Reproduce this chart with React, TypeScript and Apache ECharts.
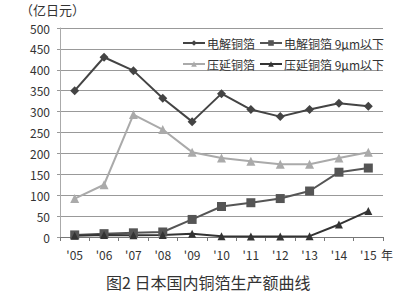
import React, { useEffect, useRef } from "react";
import * as echarts from "echarts";

const categories = ["'05", "'06", "'07", "'08", "'09", "'10", "'11", "'12", "'13", "'14", "'15"];
const seriesNames = ["电解铜箔", "电解铜箔 9μm以下", "压延铜箔", "压延铜箔 9μm以下"];
const electrolytic = [350, 430, 398, 332, 276, 343, 305, 288, 305, 320, 313];
const electrolyticThin = [5, 8, 10, 12, 42, 73, 82, 92, 110, 155, 165];
const rolled = [92, 125, 293, 257, 203, 189, 181, 174, 174, 189, 203];
const rolledThin = [3, 5, 4, 5, 8, 2, 1, 1, 2, 30, 62];
const yTicks = { min: 0, max: 500, interval: 50 };
const unitLabel = "（亿日元）";
const yearUnit = "年";
const caption = "图2 日本国内铜箔生产额曲线";

const FONT = "'Noto Sans CJK JP', 'Noto Sans CJK SC', sans-serif";

export default function App() {
  const ref = useRef<HTMLDivElement>(null);
  useEffect(() => {
    if (!ref.current) return;
    const chart = echarts.init(ref.current, undefined, { renderer: "svg" });
    const mk = (name: string, data: number[], color: string, symbol: string, size: number) => ({
      name,
      type: "line",
      data,
      symbol,
      symbolSize: size,
      lineStyle: { color, width: 2 },
      itemStyle: { color },
      z: 3,
    });
    const legendBase = {
      left: 177,
      itemWidth: 22,
      itemHeight: 7,
      itemGap: 4,
      textStyle: { fontSize: 12, color: "#333", fontFamily: FONT, padding: [0, 0, 0, -3] },
    };
    chart.setOption({
      animation: false,
      backgroundColor: "#fff",
      textStyle: { fontFamily: FONT },
      grid: { left: 60, right: 17, top: 28, bottom: 62 },
      legend: [
        { ...legendBase, data: [seriesNames[0], seriesNames[1]], top: 32 },
        { ...legendBase, data: [seriesNames[2], seriesNames[3]], top: 53 },
      ],
      xAxis: {
        type: "category",
        data: categories,
        boundaryGap: true,
        axisLine: { lineStyle: { color: "#777", width: 1 } },
        axisTick: { show: true, length: 4, lineStyle: { color: "#777" } },
        axisLabel: { color: "#333", fontSize: 12, margin: 11, fontFamily: FONT },
      },
      yAxis: {
        type: "value",
        min: yTicks.min,
        max: yTicks.max,
        interval: yTicks.interval,
        axisLine: { show: true, lineStyle: { color: "#aaa" } },
        axisTick: { show: true, length: 3, lineStyle: { color: "#999" } },
        axisLabel: { color: "#333", fontSize: 12, margin: 10, fontFamily: FONT },
        splitLine: { lineStyle: { color: "#999", width: 1 } },
      },
      graphic: [
        {
          type: "text",
          left: 20,
          top: 3,
          style: { text: unitLabel, fontSize: 13, fill: "#333", fontFamily: FONT },
        },
        {
          type: "text",
          left: 381,
          top: 248,
          style: { text: yearUnit, fontSize: 12, fill: "#333", fontFamily: FONT },
        },
        {
          type: "text",
          left: 106,
          top: 274,
          style: { text: caption, fontSize: 16, fill: "#333", fontFamily: FONT },
        },
      ],
      series: [
        mk(seriesNames[0], electrolytic, "#444", "diamond", 9),
        mk(seriesNames[1], electrolyticThin, "#555", "rect", 9),
        mk(seriesNames[2], rolled, "#aaa", "triangle", 9),
        mk(seriesNames[3], rolledThin, "#333", "triangle", 8),
      ],
    });
    return () => chart.dispose();
  }, []);
  return (
    <div
      ref={ref}
      style={{ position: "absolute", left: 0, top: 0, width: 400, height: 299 }}
    />
  );
}
